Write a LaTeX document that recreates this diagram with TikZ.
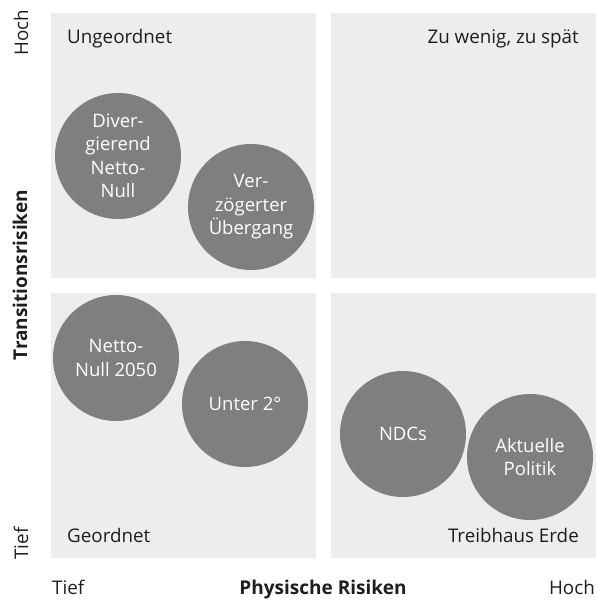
\documentclass[tikz,border=0pt]{standalone}
\usepackage{fontspec}
\setmainfont{Open Sans}
\usetikzlibrary{positioning}

\definecolor{quadgray}{HTML}{EDEDED}
\definecolor{dotgray}{HTML}{7F7F7F}
\definecolor{labelgray}{HTML}{1E1E1E}

\begin{document}
\begin{tikzpicture}[x=1pt, y=-1pt,
	scenario/.style={circle, fill=dotgray, text=white, minimum size=126pt, inner sep=0pt, align=center, font=\fontsize{18.5}{23.5}\selectfont},
	cornerlabel/.style={text=labelgray, inner sep=0pt, font=\fontsize{18.8}{22}\selectfont},
	axislabel/.style={text=labelgray, inner sep=0pt, font=\fontsize{19}{22}\selectfont\bfseries}]
	\useasboundingbox (0,0) rectangle (596,600);
	
	% quadrants
	\foreach \qx/\qy in {51/13, 331/13, 51/293, 331/293}
		\fill [quadgray] (\qx,\qy) rectangle ++(265,264.5);
	
	% quadrant names
	\node [cornerlabel, anchor=base west] (disorderly) at (67,43) {Ungeordnet};
	\node [cornerlabel, anchor=base east] (toolate) at (579,43) {Zu wenig, zu spät};
	\node [cornerlabel, anchor=base west] (orderly) at (67,542) {Geordnet};
	\node [cornerlabel, anchor=base east] (hothouse) at (579,542) {Treibhaus Erde};
	
	% scenarios
	\node [scenario] (divergent) at (118,156) {Diver-\\gierend\\Netto-\\Null};
	\node [scenario] (delayed) at (251,207) {Ver-\\zögerter\\Übergang};
	\node [scenario] (nz2050) at (116,358) {Netto-\\Null 2050};
	\node [scenario] (below2) at (245,404) {Unter 2°};
	\node [scenario] (ndcs) at (403,434) {NDCs};
	\node [scenario] (current) at (530,457) {Aktuelle\\Politik};
	
	% axes
	\node [cornerlabel, rotate=90] (yhigh) at (21,32.5) {Hoch};
	\node [cornerlabel, rotate=90] (ylow) at (21,543.5) {Tief};
	\node [axislabel, rotate=90] (yaxis) at (20,275) {Transitionsrisiken};
	\node [cornerlabel, anchor=base west] (xlow) at (52,594) {Tief};
	\node [axislabel, anchor=base] (xaxis) at (323,594) {Physische Risiken};
	\node [cornerlabel, anchor=base east] (xhigh) at (595,594) {Hoch};
\end{tikzpicture}
\end{document}
